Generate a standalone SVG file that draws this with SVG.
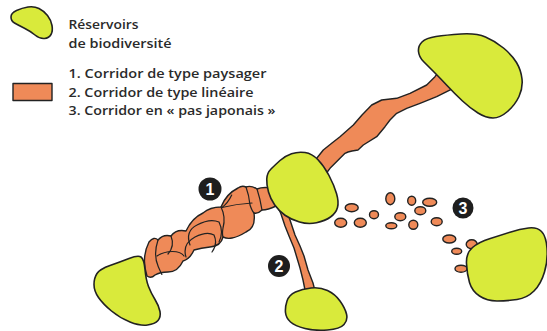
<svg xmlns="http://www.w3.org/2000/svg" width="547" height="331" viewBox="0 0 547 331">
<style>
.res{fill:#d9ea3b;stroke:#222;stroke-width:1.6;stroke-linejoin:round}
.cor{fill:#ef8a58;stroke:#222;stroke-width:1.4;stroke-linejoin:round}
.seg{fill:none;stroke:#222;stroke-width:1.2;stroke-linecap:round}
.lab{font-family:"Open Sans","Liberation Sans",sans-serif;font-weight:600;font-size:13px;fill:#2a2a2a}
.num{fill:#1e1e1e}
.numt{font-family:"Liberation Sans",sans-serif;font-weight:bold;font-size:16px;fill:#fff;text-anchor:middle}
</style>
<rect width="547" height="331" fill="#fff"/>
<g id="legend">
<path class="res" d="M16.5,10.5 Q22,8 28,7 Q34,6 39,8.5 Q44,11 47.5,15.5 Q51,20 52,25.5 Q53,31 51,34.5 Q49,38 44.5,38.5 Q40,39 35,35 Q30,31 24,28 Q18,25 14.5,23 Q11,21 11,17 Q11,13 16.5,10.5 Z"/>
<text class="lab" x="68.5" y="29" textLength="70" lengthAdjust="spacingAndGlyphs">Réservoirs</text>
<text class="lab" x="68.5" y="48" textLength="103" lengthAdjust="spacingAndGlyphs">de biodiversité</text>
<rect class="cor" x="13" y="83.5" width="39" height="17"/>
<text class="lab" x="68.5" y="78" textLength="198" lengthAdjust="spacingAndGlyphs">1. Corridor de type paysager</text>
<text class="lab" x="68.5" y="96.5" textLength="185" lengthAdjust="spacingAndGlyphs">2. Corridor de type linéaire</text>
<text class="lab" x="68.5" y="115" textLength="207" lengthAdjust="spacingAndGlyphs">3. Corridor en « pas japonais »</text>
</g>
<g id="connectors">
<path id="corridor-top" class="cor" d="M312,168 L316.7,158.3 L323.3,150 L332,143 L340,136.7 L353.3,125 L362,115 L371.7,105 L381.7,100 L396.7,98.3 L410,93.3 L426.7,85 L435,76.7 L440,70 L458,82 L453.3,88.3 L446.7,91.7 L436.7,96.7 L420,103.3 L406.7,108.3 L396.7,113.3 L390,120 L385,126.7 L376.7,136.7 L363.3,145 L358,150 L352,151 L348,152 L345,153.3 L340,158.3 L330,168.3 L325,175 L318,178 Z"/>
<path id="corridor-2" class="cor" d="M277,205 L281,214 L285,226 L289,236 L294,248 L297,258 L300,268 L303,280 L306,295 L316,295 L313,283 L308,270 L304,256 L300,246 L295,235 L292,226 L288,214 L286,205 Z"/>
<g id="corridor-1">
<path class="cor" d="M147,276 Q141,258 149,242 Q154,236 158,240 Q163,234 171,236 Q176,229 186,231 Q192,218 203,213 Q210,207 221,207 Q226,194 238,188 Q242,185 246,187 Q251,185 257,189 Q264,186 276,189 L276,206 Q268,210 262,210 Q258,214 254,213 Q256,228 246,232 Q238,237 232,238 Q227,239 223,237 Q221,246 210,247 Q201,248 194,250 Q190,259 183,261 Q178,272 168,272 Q160,272 155,275 Q151,279 147,276 Z"/>
<path class="seg" d="M158,240 Q153,255 158.3,266.7 T161,272.5"/>
<path class="seg" d="M157,256 C166,250 180,250 184,256"/>
<path class="seg" d="M171,236 Q175,246 168,254"/>
<path class="seg" d="M190,245 Q185,231 197,225 Q210,218 219,222 Q224,232 219,242"/>
<path class="seg" d="M186,257 Q182,244 195,237 Q207,231 214,235 Q218,244 212,252"/>
<path class="seg" d="M221,207 Q226,217 223,228 Q222,234 223,237"/>
<path class="seg" d="M222,207.5 Q236,204 252,203"/>
<path class="seg" d="M231.7,195 Q228,203 222,207.5"/>
<path class="seg" d="M246,187 Q249,195 250,205 Q252,211 254,213"/>
<path class="seg" d="M257,189 Q260,198 262,210"/>
</g>
<g id="corridor-3">
<ellipse class="cor" cx="351.7" cy="207.7" rx="6.5" ry="4"/>
<ellipse class="cor" cx="340.7" cy="222.7" rx="6" ry="4.5"/>
<ellipse class="cor" cx="360.3" cy="222.7" rx="6" ry="4.5"/>
<ellipse class="cor" cx="374" cy="214.7" rx="4.5" ry="4"/>
<ellipse class="cor" cx="390.3" cy="198.7" rx="4.5" ry="6"/>
<ellipse class="cor" cx="411.7" cy="200.7" rx="4" ry="4.5"/>
<ellipse class="cor" cx="429.7" cy="202.3" rx="7" ry="4"/>
<ellipse class="cor" cx="420.3" cy="210.7" rx="5.5" ry="4"/>
<ellipse class="cor" cx="400.3" cy="216.7" rx="5.5" ry="4"/>
<ellipse class="cor" cx="391.3" cy="225.7" rx="5.5" ry="3"/>
<ellipse class="cor" cx="413.3" cy="224.7" rx="4.5" ry="4.5"/>
<ellipse class="cor" cx="436.7" cy="221.7" rx="5.5" ry="4"/>
<ellipse class="cor" cx="449.3" cy="239" rx="6.5" ry="4"/>
<ellipse class="cor" cx="471.7" cy="244.3" rx="5.5" ry="4.5"/>
<ellipse class="cor" cx="456.7" cy="251.3" rx="5" ry="3"/>
<ellipse class="cor" cx="461" cy="268.7" rx="6" ry="3.5"/>
</g>
</g>
<g id="reservoir-top-right">
<path class="res" d="M422,42 Q426,38 436,36.5 Q446,35 461,34 Q476,33 485.5,37 Q495,41 503.5,48 Q512,55 516.5,62.5 Q521,70 522,79 Q523,88 519,96.5 Q515,105 507.5,111.5 Q500,118 493,118 Q486,118 478,113 Q470,108 462.5,101 Q455,94 447.5,86 Q440,78 434,72 Q428,66 423.5,61.5 Q419,57 418.5,51.5 Q418,46 422,42 Z"/>
</g>
<g id="reservoir-center">
<path class="res" d="M271,169 Q275,165 280,160.5 Q285,156 291.5,153.75 Q298,151.5 305,152.5 Q312,153.5 318,159.75 Q324,166 329,175.5 Q334,185 336.5,193.5 Q339,202 337.5,207.5 Q336,213 330.5,217 Q325,221 316.5,222.75 Q308,224.5 299.5,222 Q291,219.5 285,215.25 Q279,211 274.75,205 Q270.5,199 268.5,192 Q266.5,185 266.75,179 Q267,173 271,169 Z"/>
</g>
<g id="reservoir-bottom-left">
<path class="res" d="M97,273.5 Q100,269 110,265.5 Q120,262 129,258.5 Q138,255 141,257 Q144,259 145,269.5 Q146,280 148.5,286.5 Q151,293 155,299.5 Q159,306 160,311.5 Q161,317 158,320.5 Q155,324 147.5,325 Q140,326 130,322 Q120,318 111.5,311 Q103,304 98.5,297.5 Q94,291 94,284.5 Q94,278 97,273.5 Z"/>
</g>
<g id="reservoir-bottom-center">
<path class="res" d="M287,301 Q289,295 295.5,292 Q302,289 311,288 Q320,287 327.5,290.5 Q335,294 340,301 Q345,308 346.5,314 Q348,320 344,324.5 Q340,329 327.5,330 Q315,331 305,328.5 Q295,326 290.5,322 Q286,318 285.5,312.5 Q285,307 287,301 Z"/>
</g>
<g id="reservoir-bottom-right">
<path class="res" d="M472.5,247.5 Q479,242 489.5,238.75 Q500,235.5 510,232.25 Q520,229 528.5,228 Q537,227 541.5,231.5 Q546,236 547,248 Q548,260 544.5,272 Q541,284 534,291 Q527,298 517,299.5 Q507,301 497,301 Q487,301 479.5,296 Q472,291 469.5,282.5 Q467,274 466.5,263.5 Q466,253 472.5,247.5 Z"/>
</g>
<g id="label-1">
<circle class="num" cx="210" cy="189" r="11.5"/>
<text class="numt" x="210" y="195">1</text>
</g>
<g id="label-2">
<circle class="num" cx="279" cy="266" r="11"/>
<text class="numt" x="279" y="272">2</text>
</g>
<g id="label-3">
<circle class="num" cx="463" cy="208" r="10.5"/>
<text class="numt" x="463" y="214">3</text>
</g>
</svg>
